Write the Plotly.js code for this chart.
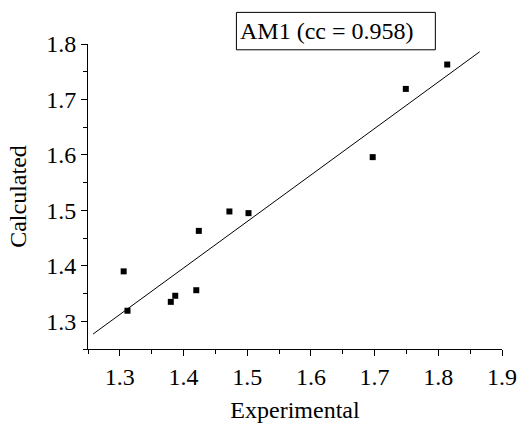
<!DOCTYPE html>
<html>
<head>
<meta charset="utf-8">
<script src="https://cdn.plot.ly/plotly-3.0.1.min.js"></script>
<style>html,body{margin:0;padding:0;background:#fff;}#chart{width:520px;height:423px;}</style>
</head>
<body>
<div id="chart"></div>
<script>
var experimental = [1.306, 1.312, 1.380, 1.387, 1.420, 1.424, 1.472, 1.502, 1.697, 1.749, 1.814];
var calculated   = [1.390, 1.319, 1.335, 1.346, 1.356, 1.463, 1.498, 1.495, 1.596, 1.719, 1.763];
var fitX = [1.258, 1.865];
var fitY = [1.277, 1.786];
var legendText = "AM1 (cc = 0.958)";
var xTitle = "Experimental";
var yTitle = "Calculated";

var font = "'Liberation Serif', 'Times New Roman', serif";
var fs = 24;

var traces = [
  {x: fitX, y: fitY, mode: 'lines', type: 'scatter', line: {color: '#000', width: 1}, hoverinfo: 'skip'},
  {x: experimental, y: calculated, mode: 'markers', type: 'scatter',
   marker: {symbol: 'square', size: 6, color: '#000'}}
];

var axisCommon = {
  showgrid: false, zeroline: false, showline: true, linecolor: '#000', linewidth: 1,
  ticks: 'outside', ticklen: 6, tickwidth: 1, tickcolor: '#000',
  tickfont: {family: font, size: fs, color: '#000'},
  minor: {ticks: 'outside', ticklen: 4, tickcolor: '#000', tickwidth: 1, dtick: 0.05},
  mirror: false
};

var layout = {
  width: 520, height: 423,
  margin: {l: 88, r: 18, t: 44, b: 74},
  paper_bgcolor: '#fff', plot_bgcolor: '#fff',
  showlegend: false,
  font: {family: font, color: '#000'},
  xaxis: Object.assign({}, axisCommon, {
    range: [1.25, 1.9], tick0: 1.3, dtick: 0.1, tickformat: '.1f',
    title: {text: xTitle, font: {family: font, size: fs, color: '#000'}, standoff: 14}
  }),
  yaxis: Object.assign({}, axisCommon, {
    range: [1.25, 1.8], tick0: 1.3, dtick: 0.1, tickformat: '.1f',
    title: {text: yTitle, font: {family: font, size: fs, color: '#000'}, standoff: 12}
  }),
  shapes: [{
    type: 'rect', xref: 'paper', yref: 'paper',
    x0: 0.3585, x1: 0.839, y0: 0.981, y1: 1.1036,
    line: {color: '#000', width: 1}, fillcolor: 'rgba(0,0,0,0)'
  }],
  annotations: [{
    xref: 'paper', yref: 'paper', x: 0.362, y: 1.0423,
    xanchor: 'left', yanchor: 'middle', showarrow: false,
    text: legendText, font: {family: font, size: fs, color: '#000'}
  }]
};

Plotly.newPlot('chart', traces, layout, {displayModeBar: false, staticPlot: true});
</script>
</body>
</html>
